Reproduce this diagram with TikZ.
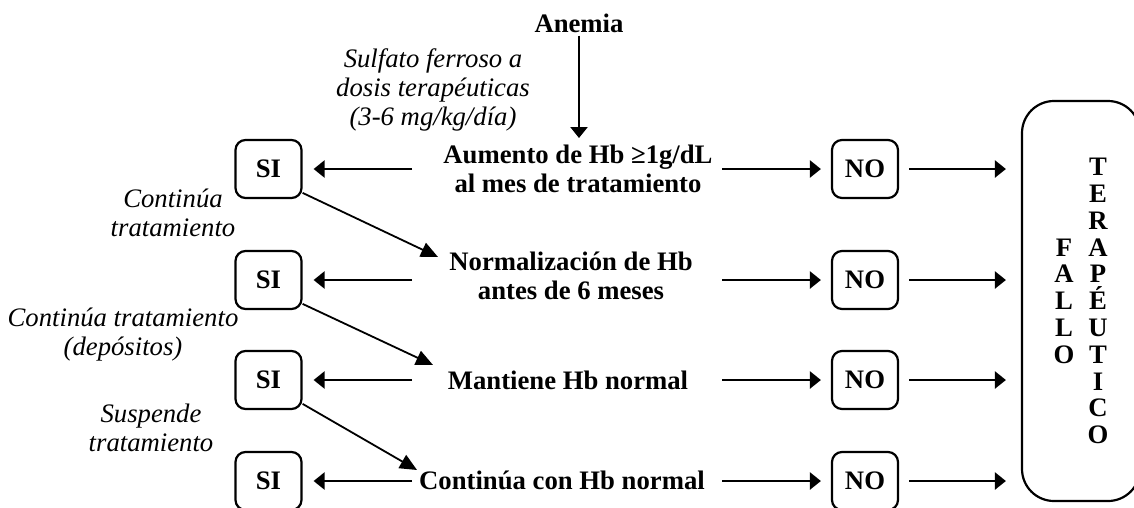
\documentclass[tikz,border=0pt]{standalone}
\usepackage{fontspec}
\setmainfont{Liberation Serif}
\usetikzlibrary{arrows.meta}
\begin{document}
\begin{tikzpicture}[x=1pt,y=-1pt,
  lbl/.style={font=\fontsize{26.7}{29}\selectfont\bfseries, align=center, inner sep=0pt},
  note/.style={font=\fontsize{26.7}{29}\selectfont\itshape, align=center, inner sep=0pt},
  vert/.style={font=\fontsize{26.7}{26.8}\selectfont\bfseries, align=center, inner sep=0pt},
  yn/.style={draw, line width=2.2pt, rounded corners=10pt, minimum width=66pt, minimum height=58pt,
             font=\fontsize{26.7}{29}\selectfont\bfseries, inner sep=0pt},
  harr/.style={line width=2.4pt, -{Triangle[length=11pt,width=17pt]}},
  darr/.style={line width=1.8pt, -{Triangle[length=17pt,width=15pt]}}
]
\useasboundingbox (0,0) rectangle (1134,507);

% top
\node[lbl] (anemia) at (579,23) {Anemia};
\node[note] (sulf) at (433,90) {Sulfato ferroso a\\dosis terapéuticas\\(3-6 mg/kg/día)};

% row texts
\node[lbl] (r1) at (578,169) {Aumento de Hb ≥1g/dL\\al mes de tratamiento};
\node[lbl] (r2) at (571,276) {Normalización de Hb\\antes de 6 meses};
\node[lbl] (r3) at (568,380) {Mantiene Hb normal};
\node[lbl] (r4) at (562,480) {Continúa con Hb normal};

% SI boxes
\node[yn] (si1) at (268.5,169) {SI};
\node[yn] (si2) at (268.5,280) {SI};
\node[yn] (si3) at (268.5,380) {SI};
\node[yn] (si4) at (268.5,481) {SI};

% NO boxes
\node[yn] (no1) at (865,169) {NO};
\node[yn] (no2) at (865,280) {NO};
\node[yn] (no3) at (865,380) {NO};
\node[yn] (no4) at (865,481) {NO};

% Fallo terapeutico
\node[draw, line width=2.2pt, rounded corners=32pt, minimum width=118pt, minimum height=400pt, inner sep=0pt]
  (fallo) at (1081,301) {};
\node[vert] (fallotxt) at (1064,301) {F\\A\\L\\L\\O};
\node[vert] (teratxt) at (1098,301) {T\\E\\R\\A\\P\\É\\U\\T\\I\\C\\O};

% italic notes
\node[note] (n1) at (173,213) {Continúa\\tratamiento};
\node[note] (n2) at (123,335) {Continúa tratamiento\\(depósitos)};
\node[note] (n3) at (151,428) {Suspende\\tratamiento};

% coordinates
\coordinate (l1) at (412,169);
\coordinate (l2) at (412,280);
\coordinate (l3) at (412,380);
\coordinate (l4) at (412,481);
\coordinate (m1) at (722,169);
\coordinate (m2) at (722,280);
\coordinate (m3) at (722,380);
\coordinate (m4) at (722,481);
\coordinate (t1) at (438,257);
\coordinate (t2) at (433,365);
\coordinate (t3) at (417,470);

% vertical arrow
\draw[harr, shorten <=3pt] (anemia.south) -- (anemia.south |- 0,138);

% horizontal arrows
\foreach \i in {1,2,3,4}{
  \draw[harr, shorten >=11pt] (l\i) -- (si\i.east);
  \draw[harr, shorten >=10pt] (m\i) -- (no\i.west);
  \draw[harr, shorten <=10pt, shorten >=15pt] (no\i.east) -- (no\i.east -| fallo.west);
}

% diagonal arrows
\draw[darr] (si1.-35) -- (t1);
\draw[darr] (si2.-35) -- (t2);
\draw[darr] (si3.-35) -- (t3);
\end{tikzpicture}
\end{document}
